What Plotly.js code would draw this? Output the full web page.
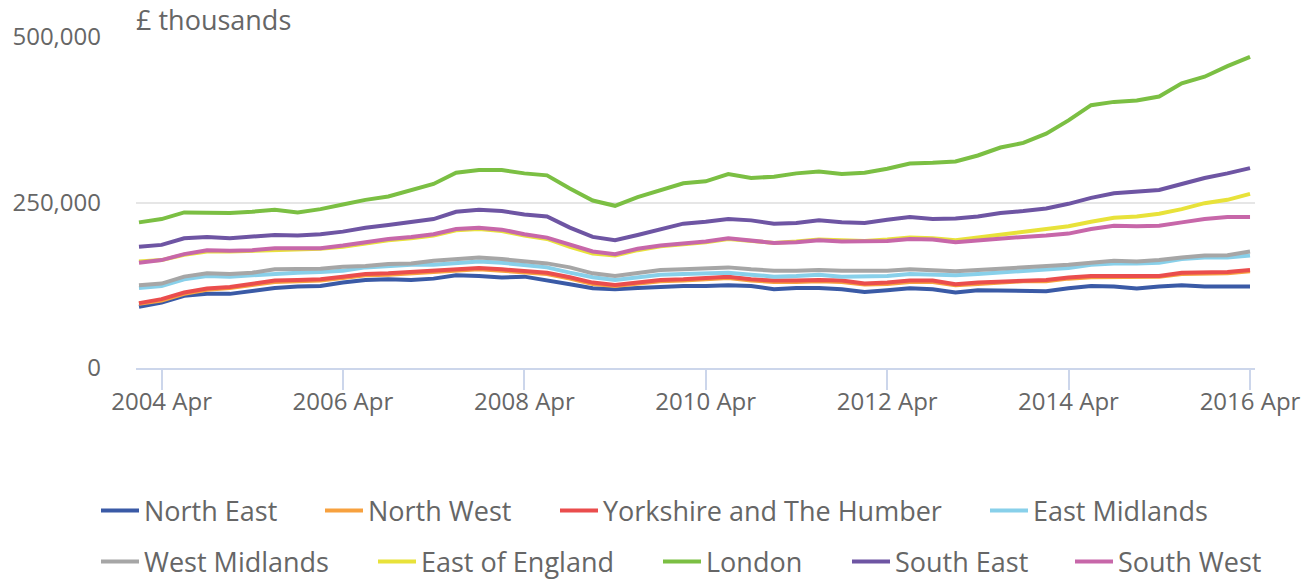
<!DOCTYPE html>
<html>
<head>
<meta charset="utf-8">
<script src="https://cdn.plot.ly/plotly-3.0.1.min.js"></script>
<style>html,body{margin:0;padding:0;background:#fff;}#chart{width:1315px;height:580px;}</style>
</head>
<body>
<div id="chart"></div>
<script>
const dates = ["2004-01-01","2004-04-01","2004-07-01","2004-10-01","2005-01-01","2005-04-01","2005-07-01","2005-10-01","2006-01-01","2006-04-01","2006-07-01","2006-10-01","2007-01-01","2007-04-01","2007-07-01","2007-10-01","2008-01-01","2008-04-01","2008-07-01","2008-10-01","2009-01-01","2009-04-01","2009-07-01","2009-10-01","2010-01-01","2010-04-01","2010-07-01","2010-10-01","2011-01-01","2011-04-01","2011-07-01","2011-10-01","2012-01-01","2012-04-01","2012-07-01","2012-10-01","2013-01-01","2013-04-01","2013-07-01","2013-10-01","2014-01-01","2014-04-01","2014-07-01","2014-10-01","2015-01-01","2015-04-01","2015-07-01","2015-10-01","2016-01-01","2016-04-01"];

const northEast = [92600,98700,109000,112000,112000,116000,121000,123000,124000,129000,133000,134000,133000,135000,140000,139000,136600,138000,133000,126600,120500,119000,121000,123000,124000,124000,125000,124000,119000,121000,121000,119000,115000,117500,120500,119000,114000,117500,117500,116000,116000,120500,124000,123000,120000,123000,125000,123000,123000,123000];
const northWest = [97000,102000,112000,118000,121000,125000,130000,131000,132000,136000,140000,141000,143000,145000,148000,149000,147000,145000,142000,135000,127000,124000,127000,131000,132000,134000,136000,132000,130000,130000,131000,130000,126000,127000,130000,130000,125000,127000,129000,131000,131000,135000,137000,137000,137000,138000,142000,142000,143000,146000];
const yorkshire = [98000,104000,114000,120000,122500,127000,132000,133000,134000,138000,142000,143000,145000,147000,150000,151000,149000,147000,144000,137000,129000,125500,129000,133000,134000,136000,138000,134000,132000,132000,133000,132000,127500,129000,132000,132000,126600,129000,130500,133000,133000,136600,139000,139000,139000,139000,144000,144000,145000,148000];
const eastMidlands = [121000,124000,134000,139000,138000,140000,143000,144000,145000,147000,152000,154000,156000,156000,159000,161000,159000,155000,152000,144000,137000,133000,137000,141000,142000,143000,144000,141000,138000,139000,141000,138000,138000,139000,142000,141000,140000,142000,144000,146000,148000,151000,156000,158000,158000,159000,164500,167000,167000,170000];
const westMidlands = [125000,127500,138000,143000,142000,144000,149000,149000,150000,153000,154000,157000,158000,162000,165000,167000,164500,162000,158000,152000,143000,139000,144000,148000,149000,150000,152000,149000,147000,147000,148000,147000,147000,147000,149000,148000,146000,148000,150000,152000,153000,156000,159000,162000,161000,163000,167000,170000,170500,176000];
const eastOfEngland = [161000,163000,171000,176000,176000,177000,179000,180000,180000,183000,188000,193000,196000,200000,208000,210000,207000,200000,195000,183000,173000,170000,178000,184000,187000,190000,195000,192000,189000,191000,194000,193000,192000,194000,197000,196000,193000,197000,201000,205000,209000,214000,221000,227000,229000,233000,240000,249000,254000,263000];
const london = [220000,225000,235000,234000,234000,236000,239000,235000,240000,247000,254000,259000,268000,278000,295000,299000,299000,294000,291000,271000,253000,245000,258000,268000,279000,282000,293000,287000,289000,294000,297000,293000,295000,301000,309000,310000,312000,321000,333000,340000,354000,374000,397000,402000,404000,410000,430000,440000,456000,470000];
const southEast = [183000,186000,196000,198000,196000,199000,201000,200000,202000,206000,212000,216000,221000,225000,236000,239000,237000,232000,229000,212000,198000,193000,201000,210000,218000,221000,225000,223000,218000,219000,223000,220000,219000,224000,228000,225000,226000,229000,234000,237000,241000,248000,257000,264000,266000,269000,278000,287000,294000,302000];
const southWest = [159000,163000,172000,178000,177000,178000,181000,181000,181000,185000,190000,195000,198000,202000,210000,212000,209000,202000,197000,186000,176000,172000,180000,185000,188000,191000,196000,192000,189000,190000,193000,191000,191000,192000,195000,194000,190000,193000,195000,198000,200000,203000,210000,215000,214000,215000,220000,225000,228000,228000];

const seriesNames = ["North East","North West","Yorkshire and The Humber","East Midlands","West Midlands","East of England","London","South East","South West"];
const seriesValues = [northEast,northWest,yorkshire,eastMidlands,westMidlands,eastOfEngland,london,southEast,southWest];
const seriesColors = ["#3a5aa6","#f7a13f","#ea4d4d","#88d0ea","#a6a6a6","#e8e23a","#7bbf43","#6e55a3","#c767a9"];

const xTickVals = ["2004-04-01","2006-04-01","2008-04-01","2010-04-01","2012-04-01","2014-04-01","2016-04-01"];
const xTickText = ["2004 Apr","2006 Apr","2008 Apr","2010 Apr","2012 Apr","2014 Apr","2016 Apr"];
const yTickVals = [0,250000,500000];
const yTickText = ["0","250,000","500,000"];

// legend placement (pixel positions of text start, row centre)
const legendTextX = [144,368,603,1033,144,421,706,895,1118];
const legendRowY = [511,511,511,511,562,562,562,562,562];

const W = 1315, H = 580, ML = 136, MR = 60, MT = 37, MB = 212;
const PW = W - ML - MR, PH = H - MT - MB;
const ITEMW = 38;

const traces = seriesNames.map((n, i) => ({
  type: 'scatter', mode: 'lines', name: n,
  x: dates, y: seriesValues[i],
  line: {color: seriesColors[i], width: 4},
  legend: i === 0 ? 'legend' : 'legend' + (i + 1),
  hoverinfo: 'skip'
}));

const layout = {
  width: W, height: H,
  margin: {l: ML, r: MR, t: MT, b: MB, autoexpand: false},
  paper_bgcolor: '#fff', plot_bgcolor: '#fff',
  font: {family: '"Open Sans", sans-serif', color: '#666666', size: 24},
  title: {text: '£ thousands', x: 0, xref: 'paper', xanchor: 'left', y: 1, yref: 'paper', yanchor: 'bottom', pad: {b: 7, t: 0, l: 0, r: 0}, font: {size: 27, color: '#666666', family: '"Open Sans", sans-serif'}},
  xaxis: {
    type: 'date', range: ['2003-12-20', '2016-04-21'],
    tickmode: 'array', tickvals: xTickVals, ticktext: xTickText,
    ticks: 'outside', ticklen: 20, tickwidth: 2, tickcolor: '#ccd6eb',
    showline: true, linecolor: '#ccd6eb', linewidth: 2,
    showgrid: false, zeroline: false,
    ticklabelstandoff: -9,
    tickfont: {size: 24, color: '#666666'}
  },
  yaxis: {
    range: [0, 500000], tickmode: 'array', tickvals: yTickVals, ticktext: yTickText,
    showgrid: true, gridcolor: '#e6e6e6', gridwidth: 2,
    showline: false, zeroline: false, ticks: '',
    ticklabelstandoff: 34,
    tickfont: {size: 24, color: '#666666'}
  },
  showlegend: true
};

seriesNames.forEach((n, i) => {
  const key = i === 0 ? 'legend' : 'legend' + (i + 1);
  const leftPx = legendTextX[i] - (ITEMW + 10);
  layout[key] = {
    orientation: 'h',
    x: (leftPx - ML) / PW, xanchor: 'left', xref: 'paper',
    y: (H - MB - legendRowY[i]) / PH, yanchor: 'middle', yref: 'paper',
    bgcolor: 'rgba(0,0,0,0)', borderwidth: 0,
    itemwidth: ITEMW,
    font: {size: 27, color: '#666666', family: '"Open Sans", sans-serif'}
  };
});

Plotly.newPlot('chart', traces, layout, {displayModeBar: false, staticPlot: true});
</script>
</body>
</html>
